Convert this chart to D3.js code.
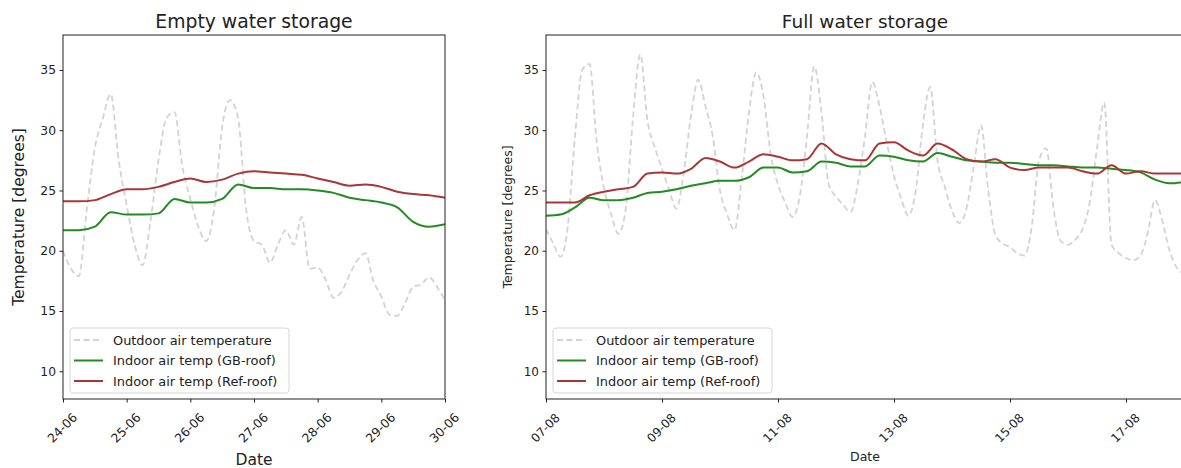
<!DOCTYPE html>
<html>
<head>
<meta charset="utf-8">
<script src="https://cdn.jsdelivr.net/npm/d3@7"></script>
<style>
    body { margin: 0; background: #fff; }
    text { font-family: "DejaVu Sans", sans-serif; fill: #222; }
</style>
</head>
<body>
<div id="chart"></div>
<script>
// Empty water storage (24-06 .. 30-06), outdoor every 3 h, indoor every 6 h
const emptyStart = "2018-06-24T00:00:00Z";
const emptyTicks = ["2018-06-24", "2018-06-25", "2018-06-26", "2018-06-27", "2018-06-28", "2018-06-29", "2018-06-30"];
const emptyOutdoor = [
    20.0, 18.5, 17.9, 23.5, 28.5, 31.0, 33.0, 27.5,
    23.8, 20.5, 18.8, 22.5, 27.5, 31.0, 31.5, 27.0,
    24.3, 22.0, 20.8, 23.5, 30.3, 32.5, 31.0, 23.5,
    20.8, 20.5, 19.0, 20.5, 21.7, 20.5, 22.8, 18.5,
    18.6, 17.6, 16.1, 16.6, 18.0, 19.2, 19.8, 17.5,
    16.2, 14.7, 14.6, 15.7, 17.0, 17.2, 17.8, 17.0,
    15.9
];
const emptyGB = [
    21.7, 21.7, 22.0, 23.2, 23.0, 23.0, 23.1, 24.3,
    24.0, 24.0, 24.3, 25.5, 25.2, 25.2, 25.1, 25.1,
    25.0, 24.8, 24.4, 24.2, 24.0, 23.6, 22.4, 22.0,
    22.2
];
const emptyRef = [
    24.1, 24.1, 24.2, 24.7, 25.1, 25.1, 25.3, 25.7,
    26.0, 25.7, 25.9, 26.4, 26.6, 26.5, 26.4, 26.3,
    26.0, 25.7, 25.4, 25.5, 25.3, 24.9, 24.7, 24.6,
    24.4
];

// Full water storage (07-08 .. 18-08)
const fullStart = "2018-08-07T00:00:00Z";
const fullEnd = "2018-08-18T00:00:00Z";
const fullTicks = ["2018-08-07", "2018-08-09", "2018-08-11", "2018-08-13", "2018-08-15", "2018-08-17"];
const fullOutdoor = [
    21.8, 20.6, 19.5, 22.0, 29.5, 35.0, 35.5, 29.0,
    25.2, 23.0, 21.4, 23.5, 31.0, 36.3, 30.8, 28.6,
    26.8, 25.0, 23.5, 26.5, 31.2, 34.2, 32.0, 29.5,
    25.0, 23.0, 21.7, 26.0, 31.5, 34.8, 32.8, 28.0,
    25.5, 24.0, 22.8, 24.5, 29.5, 35.3, 31.5, 25.5,
    24.5, 23.8, 23.2, 25.5, 29.5, 34.0, 32.0, 29.0,
    26.2, 24.3, 22.9, 25.0, 30.5, 33.6, 27.5, 25.3,
    23.3, 22.3, 23.5, 27.0, 30.4, 25.0, 21.3, 20.6,
    20.3, 19.8, 19.6, 22.0, 27.5, 28.5, 23.5, 20.8,
    20.5, 20.9, 21.8, 24.0, 28.5, 32.3, 20.5, 19.8,
    19.4, 19.2, 19.6, 21.5, 24.2, 22.5, 20.0, 18.6,
    18.1
];
const fullGB = [
    22.9, 23.0, 23.6, 24.4, 24.2, 24.2, 24.4, 24.8,
    24.9, 25.1, 25.4, 25.6, 25.8, 25.8, 26.1, 26.9,
    26.9, 26.5, 26.6, 27.4, 27.3, 27.0, 27.0, 27.9,
    27.8, 27.5, 27.4, 28.1, 27.8, 27.5, 27.4, 27.3,
    27.3, 27.2, 27.1, 27.1, 27.0, 26.9, 26.9, 26.8,
    26.7, 26.5, 25.9, 25.6, 25.7
];
const fullRef = [
    24.0, 24.0, 24.0, 24.6, 24.9, 25.1, 25.3, 26.4,
    26.5, 26.4, 26.8, 27.7, 27.4, 26.9, 27.4, 28.0,
    27.8, 27.5, 27.6, 28.9, 28.0, 27.6, 27.5, 28.9,
    29.0, 28.3, 27.9, 28.9, 28.4, 27.6, 27.4, 27.6,
    26.9, 26.7, 26.9, 26.9, 26.9, 26.6, 26.4, 27.1,
    26.4, 26.6, 26.4, 26.4, 26.4
];

const yTicks = [10, 15, 20, 25, 30, 35];
const legendLabels = ["Outdoor air temperature", "Indoor air temp (GB-roof)", "Indoor air temp (Ref-roof)"];
const colors = ["#d3d3d3", "#238b23", "#a93636"];

const width = 1181;
const height = 468;

const svg = d3.select("#chart")
    .append("svg")
    .attr("width", width)
    .attr("height", height);

const toSeries = (start, stepHours, values) => values.map((v, i) => ({
    t: d3.utcHour.offset(new Date(start), i * stepHours),
    v: v
}));

const drawPanel = (p) => {
    const x = d3.scaleUtc()
        .domain([new Date(p.start), new Date(p.end)])
        .range([p.left, p.right]);
    const y = d3.scaleLinear()
        .domain([7.7, 37.9])
        .range([p.bottom, p.top]);

    const g = svg.append("g");

    g.append("clipPath")
        .attr("id", p.id + "-clip")
        .append("rect")
        .attr("x", p.left)
        .attr("y", p.top)
        .attr("width", p.right - p.left)
        .attr("height", p.bottom - p.top);

    const line = d3.line()
        .x(d => x(d.t))
        .y(d => y(d.v))
        .curve(d3.curveMonotoneX);

    const series = [
        toSeries(p.start, 3, p.outdoor),
        toSeries(p.start, 6, p.gb),
        toSeries(p.start, 6, p.ref)
    ];

    g.append("g")
        .attr("clip-path", `url(#${p.id}-clip)`)
        .selectAll("path")
        .data(series)
        .enter()
        .append("path")
        .attr("d", line)
        .attr("fill", "none")
        .attr("stroke", (d, i) => colors[i])
        .attr("stroke-width", (d, i) => i === 0 ? 1.8 : 2)
        .attr("stroke-dasharray", (d, i) => i === 0 ? "6,3.5" : null)
        .attr("stroke-linejoin", "round");

    // frame
    g.append("rect")
        .attr("x", p.left)
        .attr("y", p.top)
        .attr("width", p.right - p.left)
        .attr("height", p.bottom - p.top)
        .attr("fill", "none")
        .attr("stroke", "#222")
        .attr("stroke-width", 1);

    const yAxis = g.append("g")
        .attr("transform", `translate(${p.left},0)`)
        .call(d3.axisLeft(y).tickValues(yTicks).tickSize(3.5).tickPadding(3.5));
    yAxis.select(".domain").remove();
    yAxis.selectAll("line").attr("stroke", "#222");
    yAxis.selectAll("text")
        .style("font-size", p.tickSize + "px")
        .style("font-family", "DejaVu Sans")
        .attr("fill", "#222");

    const tickDates = p.ticks.map(s => new Date(s + "T00:00:00Z"));
    const xAxis = g.append("g")
        .attr("transform", `translate(0,${p.bottom})`)
        .call(d3.axisBottom(x).tickValues(tickDates).tickSize(3.5).tickFormat(d3.utcFormat("%d-%m")));
    xAxis.select(".domain").remove();
    xAxis.selectAll("line").attr("stroke", "#222");
    xAxis.selectAll("text")
        .style("font-size", p.tickSize + "px")
        .style("font-family", "DejaVu Sans")
        .attr("fill", "#222")
        .attr("y", 0)
        .attr("dy", null)
        .attr("text-anchor", "middle")
        .attr("dominant-baseline", "central")
        .attr("transform", "translate(-1,29) rotate(-45)");

    g.append("text")
        .attr("x", (p.left + p.plotRight) / 2)
        .attr("y", 28)
        .attr("text-anchor", "middle")
        .style("font-size", p.titleSize + "px")
        .text(p.title);

    g.append("text")
        .attr("x", (p.left + p.plotRight) / 2)
        .attr("y", p.dateY)
        .attr("text-anchor", "middle")
        .style("font-size", p.labelSize + "px")
        .text("Date");

    g.append("text")
        .attr("transform", `translate(${p.ylabelX},${(p.top + p.bottom) / 2}) rotate(-90)`)
        .attr("text-anchor", "middle")
        .attr("dominant-baseline", "central")
        .style("font-size", p.labelSize + "px")
        .text("Temperature [degrees]");

    // legend
    const lx = p.left + 7;
    const legend = g.append("g");
    legend.append("rect")
        .attr("x", lx)
        .attr("y", 328)
        .attr("width", 219)
        .attr("height", 65)
        .attr("rx", 3)
        .attr("fill", "#fff")
        .attr("fill-opacity", 0.85)
        .attr("stroke", "#d6d6d6");

    const rows = legend.selectAll("g.row")
        .data(legendLabels)
        .enter()
        .append("g")
        .attr("class", "row")
        .attr("transform", (d, i) => `translate(${lx + 4},${340 + i * 20.5})`);

    rows.append("line")
        .attr("x1", 0)
        .attr("x2", 29)
        .attr("stroke", (d, i) => colors[i])
        .attr("stroke-width", (d, i) => i === 0 ? 1.8 : 2)
        .attr("stroke-dasharray", (d, i) => i === 0 ? "6,3.5" : null);

    rows.append("text")
        .attr("x", 39)
        .attr("dominant-baseline", "central")
        .style("font-size", "12.9px")
        .text(d => d);
};

drawPanel({
    id: "empty",
    title: "Empty water storage",
    start: emptyStart,
    end: "2018-06-30T00:00:00Z",
    ticks: emptyTicks,
    outdoor: emptyOutdoor,
    gb: emptyGB,
    ref: emptyRef,
    left: 63,
    right: 445,
    plotRight: 445,
    top: 35,
    bottom: 399,
    tickSize: 12.3,
    titleSize: 18.8,
    labelSize: 15.5,
    dateY: 465,
    ylabelX: 19
});

drawPanel({
    id: "full",
    title: "Full water storage",
    start: fullStart,
    end: fullEnd,
    ticks: fullTicks,
    outdoor: fullOutdoor,
    gb: fullGB,
    ref: fullRef,
    left: 546,
    right: 1184,
    plotRight: 1184,
    top: 35,
    bottom: 399,
    tickSize: 12,
    titleSize: 18.5,
    labelSize: 12.5,
    dateY: 461,
    ylabelX: 507
});
</script>
</body>
</html>
